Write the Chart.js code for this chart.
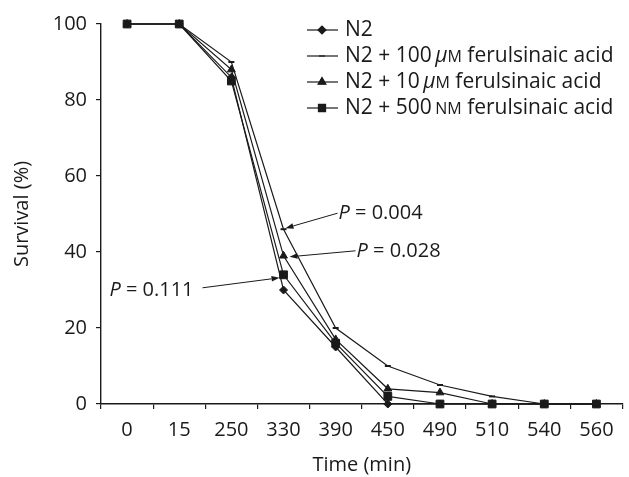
<!DOCTYPE html>
<html>
<head>
<meta charset="utf-8">
<script src="https://cdn.jsdelivr.net/npm/chart.js@4.4.0/dist/chart.umd.min.js"></script>
<style>
    html, body { margin: 0; padding: 0; background: #fff; }
    canvas { display: block; }
</style>
</head>
<body>
<canvas id="chart" width="629" height="477"></canvas>
<script>
// Survival data
const timeLabels = ['0', '15', '250', '330', '390', '450', '490', '510', '540', '560'];
const survivalN2 = [100, 100, 86, 30, 15, 0, 0, 0, 0, 0];
const survival100uM = [100, 100, 90, 46, 20, 10, 5, 2, 0, 0];
const survival10uM = [100, 100, 88, 39, 17, 4, 3, 0, 0, 0];
const survival500nM = [100, 100, 85, 34, 16, 2, 0, 0, 0, 0];
const yTicks = [0, 20, 40, 60, 80, 100];
const pValues = ['0.004', '0.028', '0.111'];

const FONT = "'Open Sans', sans-serif";
const FS = 20;
const LEGEND_FS = 21;
const INK = '#1a1a1a';

// legend rows: text split into pieces so the unit can be italic / small caps
const legendRows = [
    { style: 'rectRot', radius: 4, parts: [['N2', 'n']] },
    { style: 'line', radius: 3, parts: [['N2 + 100\u2009', 'n'], ['\u03bc', 'i'], ['M', 's'], [' ferulsinaic acid', 'n']] },
    { style: 'triangle', radius: 4.5, parts: [['N2 + 10\u2009', 'n'], ['\u03bc', 'i'], ['M', 's'], [' ferulsinaic acid', 'n']] },
    { style: 'rect', radius: 5, parts: [['N2 + 500\u2009', 'n'], ['NM', 's'], [' ferulsinaic acid', 'n']] }
];

function fontFor(kind, size) {
    if (kind === 'i') return 'italic ' + size + 'px ' + FONT;
    if (kind === 's') return Math.round(size * 0.76) + 'px ' + FONT;
    return size + 'px ' + FONT;
}

function drawParts(ctx, parts, x, y, size) {
    ctx.textBaseline = 'middle';
    ctx.textAlign = 'left';
    parts.forEach(p => {
        ctx.font = fontFor(p[1], size);
        const dy = p[1] === 's' ? 1.5 : 0;
        ctx.fillText(p[0], x, y + dy);
        x += ctx.measureText(p[0]).width;
    });
    return x;
}

function arrow(ctx, x1, y1, x2, y2) {
    const ang = Math.atan2(y2 - y1, x2 - x1);
    const len = 8, half = 2.8;
    ctx.beginPath();
    ctx.moveTo(x1, y1);
    ctx.lineTo(x2 - Math.cos(ang) * len, y2 - Math.sin(ang) * len);
    ctx.stroke();
    ctx.beginPath();
    ctx.moveTo(x2, y2);
    ctx.lineTo(x2 - Math.cos(ang) * len - Math.sin(ang) * half, y2 - Math.sin(ang) * len + Math.cos(ang) * half);
    ctx.lineTo(x2 - Math.cos(ang) * len + Math.sin(ang) * half, y2 - Math.sin(ang) * len - Math.cos(ang) * half);
    ctx.closePath();
    ctx.fill();
}

const extrasPlugin = {
    id: 'extras',
    afterDraw(chart) {
        const ctx = chart.ctx;
        const xs = chart.scales.x, ys = chart.scales.y;
        ctx.save();
        ctx.fillStyle = INK;
        ctx.strokeStyle = INK;
        ctx.lineWidth = 1.2;

        // legend
        legendRows.forEach((row, i) => {
            const y = 30 + i * 26;
            ctx.beginPath();
            ctx.moveTo(307, y);
            ctx.lineTo(338, y);
            ctx.stroke();
            Chart.helpers.drawPoint(ctx, { pointStyle: row.style, radius: row.radius, borderWidth: row.style === 'line' ? 2 : 1 }, 322, y);
            if (row.style !== 'line') ctx.fill();
            drawParts(ctx, row.parts, 345, y, LEGEND_FS);
        });

        // P value call-outs at t = 330
        const xi = 3;
        const px = xs.getPixelForValue(xi);
        const callouts = [
            { text: pValues[0], y: ys.getPixelForValue(survival100uM[xi]), tip: [2, -1], tail: [54, -16], side: 'r' },
            { text: pValues[1], y: ys.getPixelForValue(survival10uM[xi]), tip: [6, 1], tail: [72, -5], side: 'r' },
            { text: pValues[2], y: ys.getPixelForValue(survival500nM[xi]), tip: [-4, 3], tail: [-81, 13], side: 'l' }
        ];
        ctx.lineWidth = 1;
        callouts.forEach(c => {
            const tx = px + c.tail[0], ty = c.y + c.tail[1];
            arrow(ctx, tx, ty, px + c.tip[0], c.y + c.tip[1]);
            const parts = [['P', 'i'], [' = ' + c.text, 'n']];
            if (c.side === 'r') {
                drawParts(ctx, parts, tx + 1, ty, FS);
            } else {
                ctx.font = fontFor('i', FS);
                let w = ctx.measureText('P').width;
                ctx.font = fontFor('n', FS);
                w += ctx.measureText(parts[1][0]).width;
                drawParts(ctx, parts, tx - 9 - w, ty + 2, FS);
            }
        });
        ctx.restore();
    }
};

function series(data, style, radius, order) {
    return {
        data: data,
        borderColor: INK,
        backgroundColor: INK,
        borderWidth: 1.2,
        pointStyle: style,
        pointRadius: radius,
        pointBorderWidth: style === 'line' ? 2 : 1,
        pointBackgroundColor: INK,
        pointBorderColor: INK,
        tension: 0,
        clip: false,
        order: order
    };
}

new Chart(document.getElementById('chart'), {
    type: 'line',
    data: {
        labels: timeLabels,
        datasets: [
            series(survivalN2, 'rectRot', 4, 3),
            series(survival100uM, 'line', 3, 2),
            series(survival10uM, 'triangle', 4.5, 1),
            series(survival500nM, 'rect', 5.5, 0)
        ]
    },
    options: {
        responsive: false,
        animation: false,
        layout: { padding: { top: 24, right: 0, left: 0, bottom: 0 } },
        plugins: { legend: { display: false }, tooltip: { enabled: false } },
        scales: {
            x: {
                offset: true,
                grid: { offset: true, drawOnChartArea: false, tickLength: 5, color: INK, lineWidth: 1.2 },
                border: { color: INK, width: 1.4 },
                ticks: { color: INK, font: { family: FONT, size: FS }, padding: 9, maxRotation: 0, autoSkip: false },
                title: { display: true, text: 'Time (min)', color: INK, font: { family: FONT, size: FS }, padding: { top: 0, bottom: 0 } },
                afterFit(s) { s.height = 73; }
            },
            y: {
                min: 0,
                max: 100,
                afterBuildTicks(s) { s.ticks = yTicks.map(v => ({ value: v })); },
                grid: { drawOnChartArea: false, tickLength: 5, color: INK, lineWidth: 1.2 },
                border: { color: INK, width: 1.4 },
                ticks: { color: INK, font: { family: FONT, size: FS }, padding: 9 },
                title: { display: true, text: 'Survival (%)', color: INK, font: { family: FONT, size: FS }, padding: { top: 10, bottom: 0 } },
                afterFit(s) { s.width = 101; }
            }
        }
    },
    plugins: [extrasPlugin]
});
</script>
</body>
</html>
